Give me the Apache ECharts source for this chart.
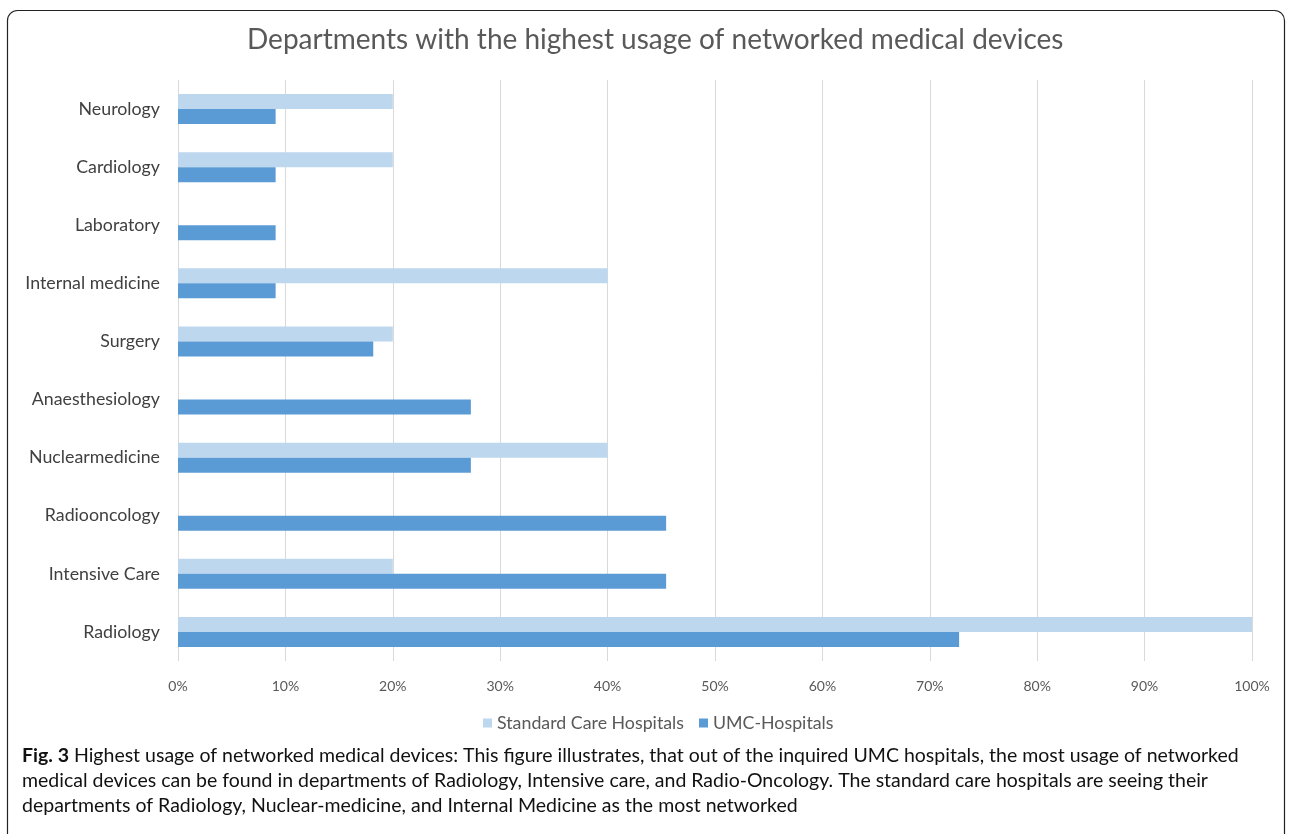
<!DOCTYPE html>
<html><head><meta charset="utf-8">
<script src="https://cdn.jsdelivr.net/npm/echarts@6/dist/echarts.min.js"></script>
<style>html,body{margin:0;padding:0;background:#fff}#c{width:1292px;height:834px}</style>
</head><body><div id="c"></div>
<script>
const categories = ['Radiology','Intensive Care','Radiooncology','Nuclearmedicine','Anaesthesiology','Surgery','Internal medicine','Laboratory','Cardiology','Neurology'];
const standardCare = [100, 20, 0, 40, 0, 20, 40, 0, 20, 20];
const umcHospitals = [72.73, 45.45, 45.45, 27.27, 27.27, 18.18, 9.09, 9.09, 9.09, 9.09];
const seriesNames = ['Standard Care Hospitals', 'UMC-Hospitals'];
const titleText = 'Departments with the highest usage of networked medical devices';
const captionLines = [
  'Highest usage of networked medical devices: This figure illustrates, that out of the inquired UMC hospitals, the most usage of networked',
  'medical devices can be found in departments of Radiology, Intensive care, and Radio-Oncology. The standard care hospitals are seeing their',
  'departments of Radiology, Nuclear-medicine, and Internal Medicine as the most networked'
];

const chart = echarts.init(document.getElementById('c'), null, {renderer: 'canvas'});
const capFont = 'Lato';
chart.setOption({
  animation: false,
  backgroundColor: '#fff',
  title: {
    text: titleText, left: 242, top: 21,
    textStyle: {fontFamily: 'Lato', fontSize: 28, fontWeight: 'normal', color: '#595959'}
  },
  legend: {
    data: seriesNames, top: 709, left: 478,
    itemWidth: 9, itemHeight: 9, itemGap: 15, icon: 'rect',
    textStyle: {fontFamily: 'Lato', fontSize: 17.8, color: '#595959'}
  },
  grid: {left: 178, right: 40, top: 80, bottom: 173},
  xAxis: {
    type: 'value', min: 0, max: 100, interval: 10,
    axisLine: {show: false}, axisTick: {show: false},
    axisLabel: {formatter: '{value}%', fontFamily: 'Lato', fontSize: 14, color: '#595959', margin: 18},
    splitLine: {lineStyle: {color: '#D9D9D9', width: 1}}
  },
  yAxis: {
    type: 'category', data: categories,
    axisLine: {show: false}, axisTick: {show: false},
    axisLabel: {fontFamily: 'Lato', fontSize: 17.8, color: '#404040', margin: 18}
  },
  series: [
    {name: seriesNames[0], type: 'bar', data: standardCare, barWidth: 15, barGap: '0%', itemStyle: {color: '#BDD7EE'}},
    {name: seriesNames[1], type: 'bar', data: umcHospitals, barWidth: 15, barGap: '0%', itemStyle: {color: '#5B9BD5'}}
  ],
  graphic: [
    {type: 'rect', shape: {x: 7.5, y: 10.5, width: 1277, height: 900, r: 10}, style: {fill: 'none', stroke: '#222', lineWidth: 1.2}, z: 100},
    {type: 'text', left: 22, top: 746, style: {
      text: '{b|Fig. 3} ' + captionLines[0],
      rich: {b: {fontFamily: capFont, fontWeight: 'bold', fontSize: 19.5, fill: '#111'}},
      fontFamily: capFont, fontSize: 19.5, fill: '#111'}},
    {type: 'text', left: 22, top: 771, style: {text: captionLines[1], fontFamily: capFont, fontSize: 19.5, fill: '#111'}},
    {type: 'text', left: 22, top: 796, style: {text: captionLines[2], fontFamily: capFont, fontSize: 19.5, fill: '#111'}}
  ]
});
</script></body></html>
